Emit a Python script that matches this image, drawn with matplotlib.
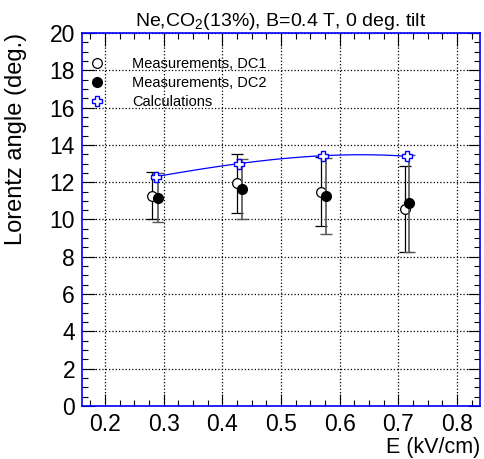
import numpy as np
import matplotlib
matplotlib.use('Agg')
import matplotlib.pyplot as plt
from matplotlib.ticker import MultipleLocator
from matplotlib.lines import Line2D

plt.rcParams['font.family'] = ['Liberation Sans', 'DejaVu Sans']
plt.rcParams['mathtext.fontset'] = 'custom'
plt.rcParams['mathtext.rm'] = 'Liberation Sans'
plt.rcParams['mathtext.default'] = 'rm'

# measured / calculated Lorentz angles
e_dc1 = [0.281, 0.425, 0.568, 0.711]
ang_dc1 = [11.28, 11.94, 11.50, 10.55]
err_dc1 = [1.28, 1.57, 1.87, 2.30]

e_dc2 = [0.290, 0.433, 0.576, 0.718]
ang_dc2 = [11.17, 11.64, 11.25, 10.86]
err_dc2 = [1.30, 1.61, 2.05, 2.60]

e_calc = [0.287, 0.429, 0.571, 0.714]
ang_calc = [12.30, 13.00, 13.42, 13.39]

fig = plt.figure(figsize=(4.84, 4.59), dpi=100)
ax = fig.add_axes([82 / 484, 1 - 406 / 459, 398 / 484, 373 / 459])

# smooth curve through the calculations (ROOT "C" option style)
coef = np.polyfit(e_calc, ang_calc, 3)
xs = np.linspace(e_calc[0], e_calc[-1], 200)
ax.plot(xs, np.polyval(coef, xs), color='blue', linewidth=0.9, zorder=2)

ax.errorbar(e_dc1, ang_dc1, yerr=err_dc1, fmt='o', color='black', mfc='white',
            mec='black', ms=7, mew=0.9, ecolor='black', elinewidth=0.9, capsize=4,
            capthick=0.9, zorder=3)
ax.errorbar(e_dc2, ang_dc2, yerr=err_dc2, fmt='o', color='black', mfc='black',
            mec='black', ms=7, ecolor='#555555', elinewidth=1.2, capsize=4,
            capthick=1.0, zorder=4)
ax.plot(e_calc, ang_calc, linestyle='none', marker='P', ms=6.5, mfc='white',
        mec='blue', mew=1.0, zorder=5)

ax.set_xlim(0.161, 0.839)
ax.set_ylim(0, 20)
ax.xaxis.set_major_locator(MultipleLocator(0.1))
ax.xaxis.set_minor_locator(MultipleLocator(0.025))
ax.yaxis.set_major_locator(MultipleLocator(2))
ax.yaxis.set_minor_locator(MultipleLocator(0.5))
ax.tick_params(which='both', direction='in', top=True, right=True, labelsize=16.5)
ax.tick_params(which='major', length=9, width=0.8)
ax.tick_params(which='minor', length=4.5, width=0.8)
ax.tick_params(axis='x', pad=5)
ax.tick_params(axis='y', pad=5)
ax.set_xticklabels([f'{v:.1f}' for v in ax.get_xticks()])
ax.grid(which='major', linestyle=':', color='black', linewidth=0.9)
ax.set_axisbelow(True)
for s in ax.spines.values():
    s.set_color('blue')
    s.set_linewidth(1.2)

ax.set_title('Ne,CO$_2$(13%), B=0.4 T, 0 deg. tilt', fontsize=14, pad=5)
ax.set_ylabel('Lorentz angle (deg.)', fontsize=17, loc='top')
ax.yaxis.set_label_coords(-0.137, 1.0)
ax.set_xlabel('E (kV/cm)', fontsize=15.5, loc='right', labelpad=1)

handles = [
    Line2D([], [], linestyle='none', marker='o', ms=7, mfc='white', mec='black', mew=0.9),
    Line2D([], [], linestyle='none', marker='o', ms=7, mfc='black', mec='black'),
    Line2D([], [], linestyle='none', marker='P', ms=6.5, mfc='white', mec='blue', mew=1.0),
]
labels = ['Measurements, DC1', 'Measurements, DC2', 'Calculations']
ax.legend(handles, labels, loc='upper left', frameon=False, fontsize=10.5,
          handletextpad=1.9, borderaxespad=0, labelspacing=0.33,
          handlelength=1.0, bbox_to_anchor=(0.005, 0.95))

fig.savefig('out.png', dpi=100)
